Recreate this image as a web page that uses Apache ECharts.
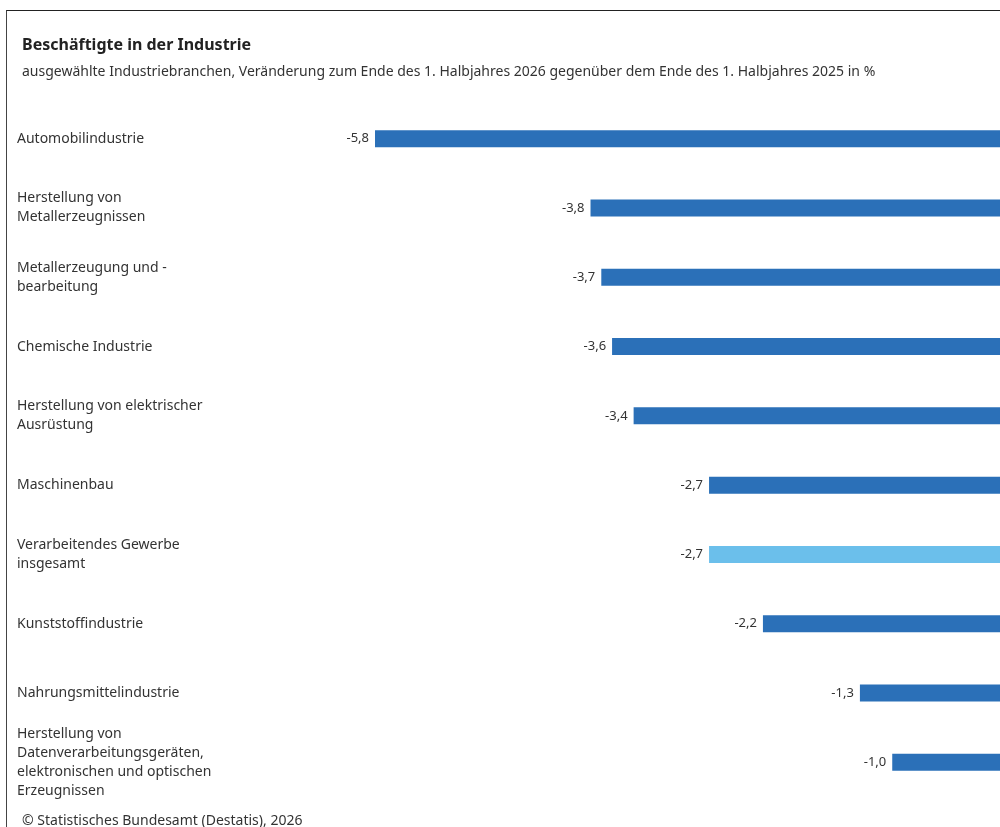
<!DOCTYPE html>
<html>
<head>
<meta charset="utf-8">
<title>Beschäftigte in der Industrie</title>
<style>
  html, body { margin: 0; padding: 0; background: #fff; }
  #frame { position: absolute; left: 6px; top: 10px; width: 1000px; height: 830px;
           border-top: 1px solid #222; border-left: 1px solid #444; }
  #main { position: absolute; left: 0; top: 0; width: 1000px; height: 827px; }
</style>
</head>
<body>
<div id="frame"></div>
<div id="main"></div>
<script src="https://cdn.jsdelivr.net/npm/echarts@6/dist/echarts.min.js"></script>
<script>
var categories = [
  'Automobilindustrie',
  'Herstellung von\nMetallerzeugnissen',
  'Metallerzeugung und -\nbearbeitung',
  'Chemische Industrie',
  'Herstellung von elektrischer\nAusrüstung',
  'Maschinenbau',
  'Verarbeitendes Gewerbe\ninsgesamt',
  'Kunststoffindustrie',
  'Nahrungsmittelindustrie',
  'Herstellung von\nDatenverarbeitungsgeräten,\nelektronischen und optischen\nErzeugnissen'
];
var values = [-5.8, -3.8, -3.7, -3.6, -3.4, -2.7, -2.7, -2.2, -1.3, -1.0];
var highlight = 'Verarbeitendes Gewerbe\ninsgesamt';

var font = '"Noto Sans", "Open Sans", sans-serif';
var chart = echarts.init(document.getElementById('main'));
chart.setOption({
  animation: false,
  textStyle: { fontFamily: font },
  title: [{
    text: 'Beschäftigte in der Industrie',
    left: 17, top: 32,
    textStyle: { fontSize: 16, fontWeight: 'bold', color: '#222', fontFamily: font }
  }, {
    text: 'ausgewählte Industriebranchen, Veränderung zum Ende des 1. Halbjahres 2026 gegenüber dem Ende des 1. Halbjahres 2025 in %',
    left: 17, top: 60,
    textStyle: { fontSize: 14, fontWeight: 'normal', color: '#333', fontFamily: font }
  }, {
    text: '© Statistisches Bundesamt (Destatis), 2026',
    left: 17, top: 809,
    textStyle: { fontSize: 14, fontWeight: 'normal', color: '#333', fontFamily: font }
  }],
  grid: { left: 375, right: -36, top: 104, bottom: 30 },
  xAxis: {
    type: 'value', min: -5.8, max: 0,
    axisLine: { show: false }, axisTick: { show: false },
    axisLabel: { show: false }, splitLine: { show: false }
  },
  yAxis: {
    type: 'category', data: categories, inverse: true,
    axisLine: { show: false }, axisTick: { show: false },
    axisLabel: { align: 'left', margin: 358, fontSize: 14, color: '#333', lineHeight: 19, fontFamily: font }
  },
  series: [{
    type: 'bar',
    barWidth: 17,
    data: values.map(function (v, i) {
      return { value: v, itemStyle: { color: categories[i] === highlight ? '#6bbfeb' : '#2b70b8' } };
    }),
    label: {
      show: true, position: 'left', distance: 6, fontSize: 13, color: '#333',
      formatter: function (p) { return p.value.toFixed(1).replace('.', ','); }
    }
  }]
});
</script>
</body>
</html>
